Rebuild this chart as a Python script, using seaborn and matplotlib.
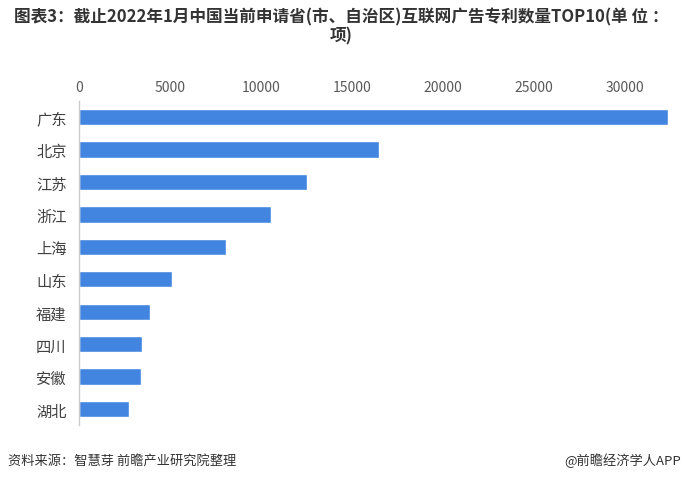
import matplotlib
matplotlib.use("Agg")
import matplotlib.pyplot as plt
import seaborn as sns
import pandas as pd

provinces = ["广东", "北京", "江苏", "浙江", "上海", "山东", "福建", "四川", "安徽", "湖北"]
patents = [32400, 16500, 12550, 10570, 8100, 5100, 3910, 3450, 3400, 2760]
x_ticks = [0, 5000, 10000, 15000, 20000, 25000, 30000]

title = "图表3：截止2022年1月中国当前申请省(市、自治区)互联网广告专利数量TOP10(单 位 ：\n项)"
source = "资料来源：智慧芽 前瞻产业研究院整理"
brand = "@前瞻经济学人APP"

df = pd.DataFrame({"province": provinces, "count": patents})

sns.set_theme(style="white")
plt.rcParams["font.family"] = ["Noto Sans CJK SC", "DejaVu Sans"]

fig = plt.figure(figsize=(6.82, 4.81), dpi=100)
ax = fig.add_axes([0.116, 0.114, 0.864, 0.674])

sns.barplot(data=df, x="count", y="province", color="#4285e0",
            width=0.5, saturation=1, ax=ax)

ax.set_xlim(0, max(patents))
ax.set_ylim(9.5, -0.5)
ax.set_xticks(x_ticks)
ax.xaxis.tick_top()
ax.tick_params(axis="x", length=0, pad=5, labelsize=10, labelcolor="#595959")
ax.tick_params(axis="y", length=0, pad=9, labelsize=11, labelcolor="#404040")
ax.set_xlabel("")
ax.set_ylabel("")

for s in ["top", "right", "bottom"]:
    ax.spines[s].set_visible(False)
ax.spines["left"].set_color("#cccccc")
ax.spines["left"].set_linewidth(1)

fig.text(0.5, 0.982, title, ha="center", va="top", fontsize=12,
         fontweight="bold", color="#333333", linespacing=1.05)
fig.text(0.012, 0.042, source, ha="left", va="center", fontsize=9.5, color="#333333")
fig.text(0.998, 0.042, brand, ha="right", va="center", fontsize=9.5, color="#333333")

fig.savefig("out.png", dpi=100)
